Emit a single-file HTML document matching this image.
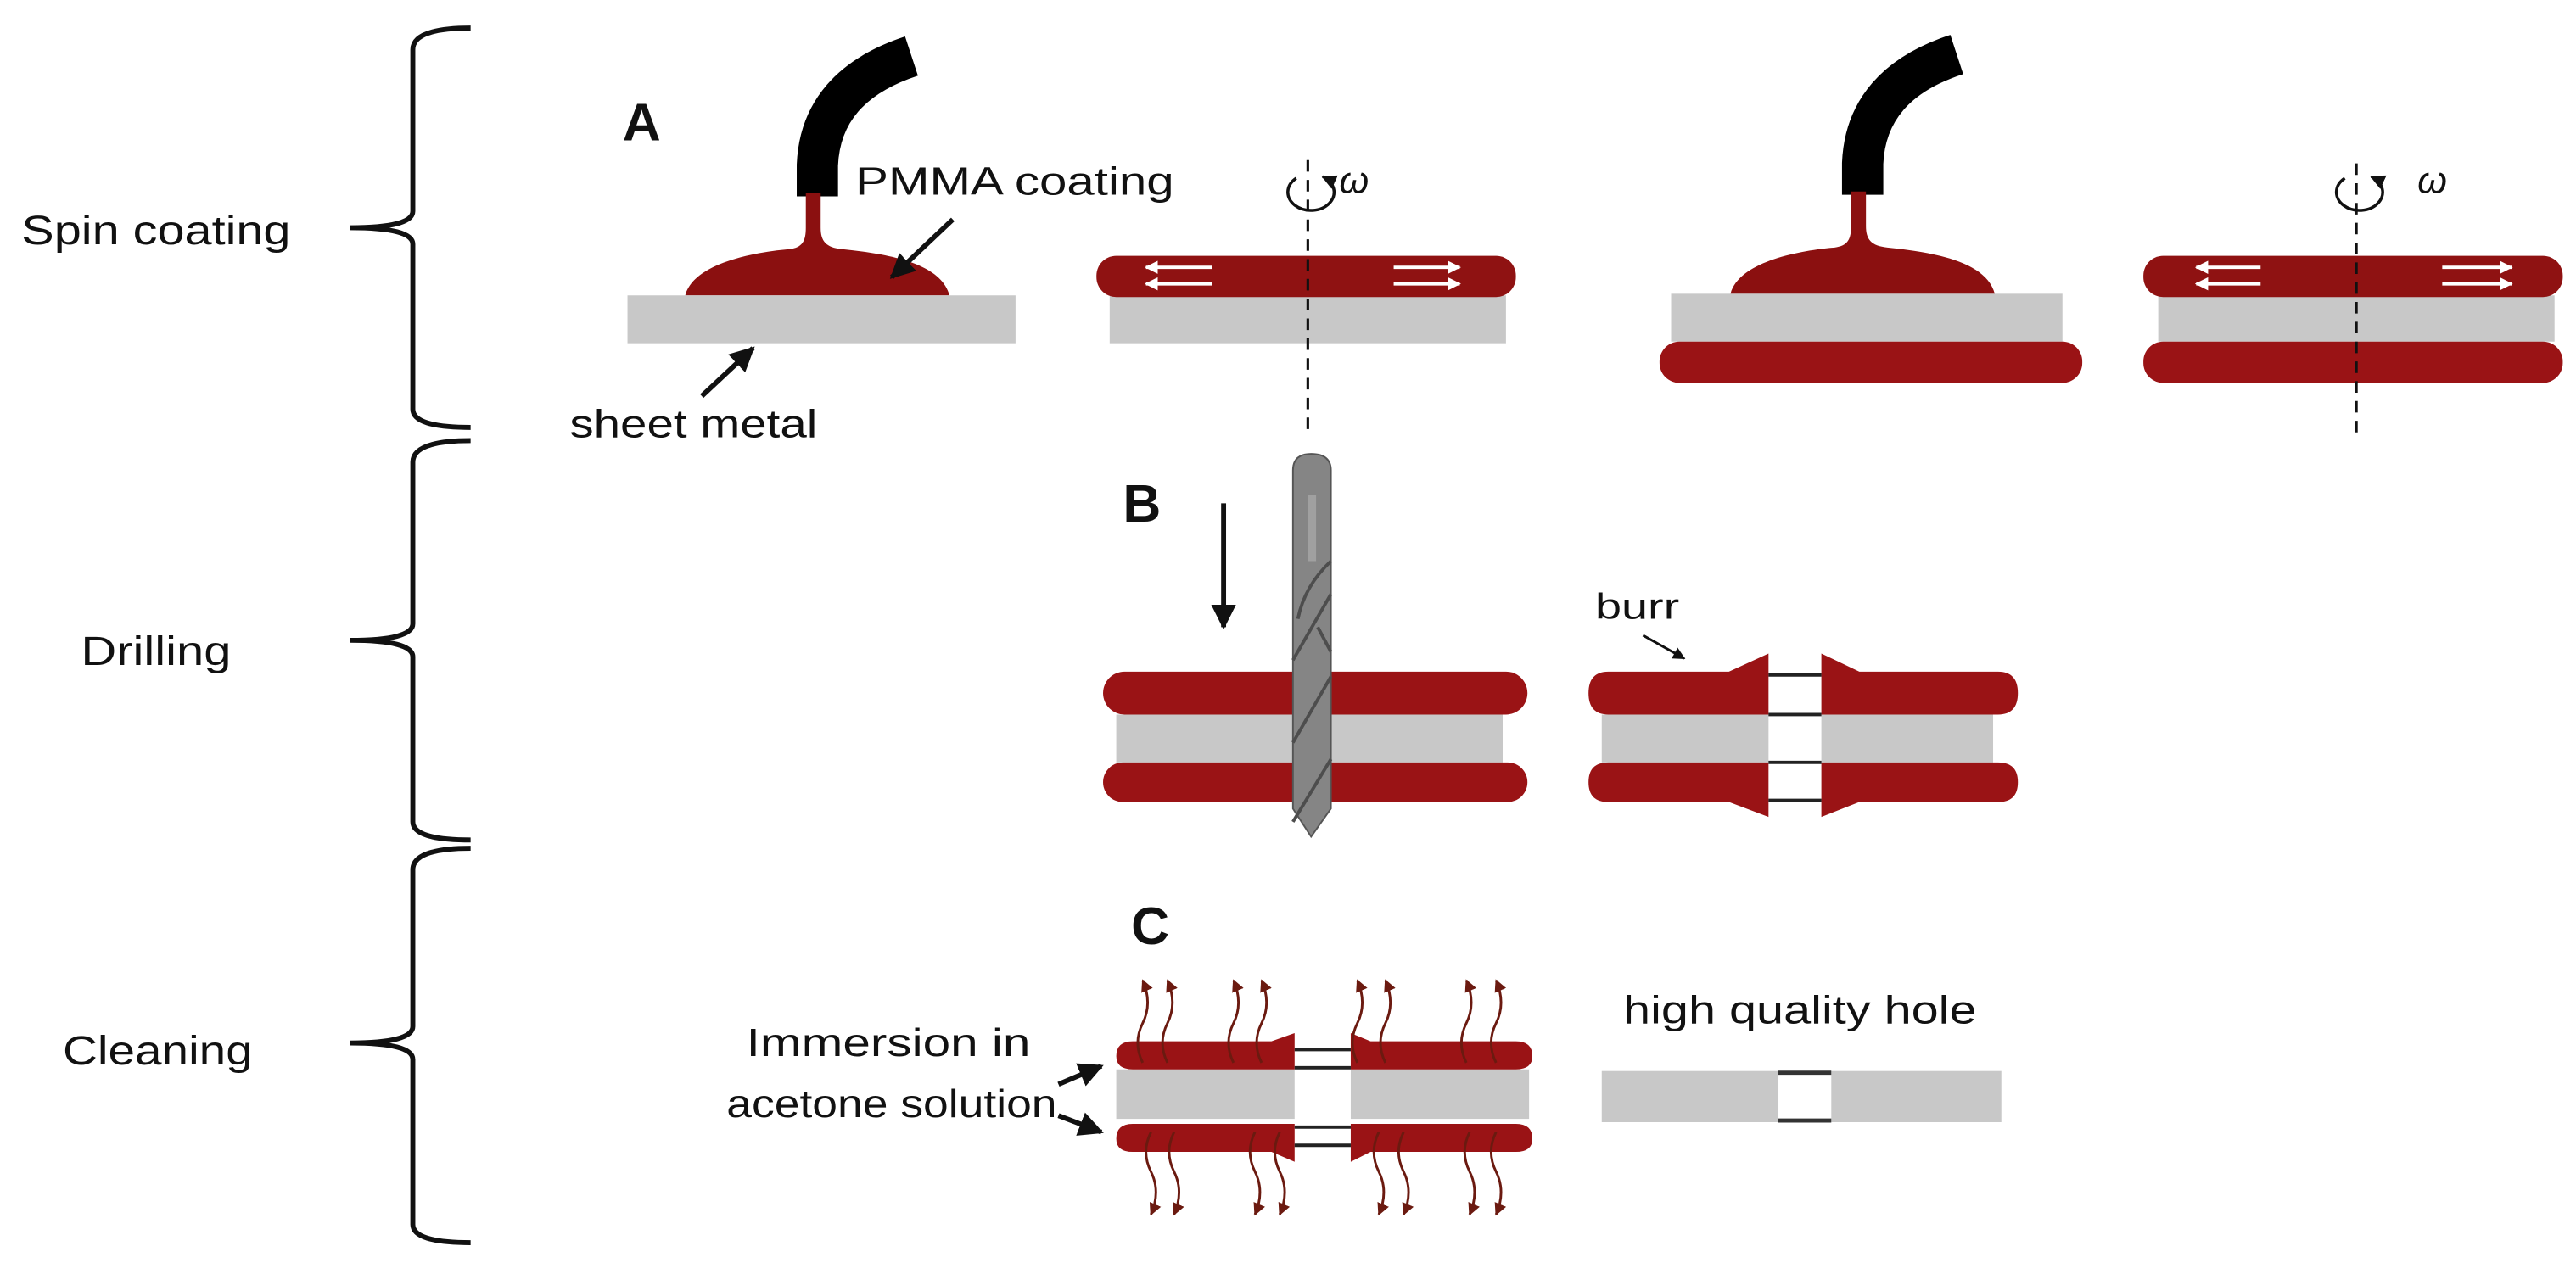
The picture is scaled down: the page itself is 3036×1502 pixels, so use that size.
<!DOCTYPE html>
<html><head><meta charset="utf-8"><style>
html,body{margin:0;padding:0;background:#fff;}
svg{display:block;}
text{font-family:"Liberation Sans",sans-serif;fill:#111;}
</style></head><body>
<svg width="3036" height="1502" viewBox="0 0 1560 772" preserveAspectRatio="none" xmlns="http://www.w3.org/2000/svg">
<defs>
<marker id="ah" viewBox="0 0 10 10" refX="9" refY="5" markerWidth="5" markerHeight="5" orient="auto"><path d="M0,0 L10,5 L0,10 Z" fill="#111"/></marker>
<marker id="aw" viewBox="0 0 10 10" refX="9" refY="5" markerWidth="4" markerHeight="4" orient="auto"><path d="M0,0 L10,5 L0,10 Z" fill="#fff"/></marker>
<marker id="ab" viewBox="0 0 10 10" refX="9" refY="5" markerWidth="5" markerHeight="5" orient="auto"><path d="M0,0 L10,5 L0,10 Z" fill="#6b1a10"/></marker>
<g id="noz">
<path d="M495,119 L495,100 Q497,52 552,34" stroke="#000" stroke-width="25" fill="none"/>
<path d="M415,179 C420,160 455,153 478,151 C486,150 488,146 488,138 L488,117 L497,117 L497,138 C497,146 500,150 510,151 C540,154 570,160 575,179 Z" fill="#8b1010"/>
</g>
</defs>
<rect width="1560" height="772" fill="#fff"/>

<!-- braces -->
<g fill="none" stroke="#111" stroke-width="3">
<path d="M285,17 Q250,17 250,30 L250,128 Q250,138 212,138 Q250,138 250,148 L250,248 Q250,259 285,259"/>
<path d="M285,267 Q250,267 250,280 L250,378 Q250,388 212,388 Q250,388 250,398 L250,498 Q250,509 285,509"/>
<path d="M285,514 Q250,514 250,527 L250,622 Q250,632 212,632 Q250,632 250,642 L250,742 Q250,753 285,753"/>
</g>
<text x="13" y="148" font-size="25" textLength="163" lengthAdjust="spacingAndGlyphs">Spin coating</text>
<text x="49" y="403" font-size="25" textLength="91" lengthAdjust="spacingAndGlyphs">Drilling</text>
<text x="38" y="645" font-size="25" textLength="115" lengthAdjust="spacingAndGlyphs">Cleaning</text>

<!-- Panel A -->
<text x="377" y="85" font-size="32" font-weight="bold">A</text>
<!-- item 1 -->
<use href="#noz"/>
<rect x="380" y="179" width="235" height="29" fill="#c8c8c8"/>
<text x="518" y="118" font-size="24" textLength="193" lengthAdjust="spacingAndGlyphs">PMMA coating</text>
<line x1="577" y1="133" x2="540" y2="168" stroke="#111" stroke-width="3" marker-end="url(#ah)"/>
<text x="345" y="265" font-size="24" textLength="150" lengthAdjust="spacingAndGlyphs">sheet metal</text>
<line x1="425" y1="240" x2="456" y2="211" stroke="#111" stroke-width="3" marker-end="url(#ah)"/>

<!-- item 2 -->
<rect x="672" y="179" width="240" height="29" fill="#c8c8c8"/>
<rect x="664" y="155" width="254" height="25" rx="12" fill="#8f1212"/>
<g stroke="#fff" stroke-width="2">
<line x1="734" y1="162" x2="694" y2="162" marker-end="url(#aw)"/>
<line x1="734" y1="172" x2="694" y2="172" marker-end="url(#aw)"/>
<line x1="844" y1="162" x2="884" y2="162" marker-end="url(#aw)"/>
<line x1="844" y1="172" x2="884" y2="172" marker-end="url(#aw)"/>
</g>
<line x1="792" y1="97" x2="792" y2="262" stroke="#111" stroke-width="1.6" stroke-dasharray="7,5"/>
<path d="M785,108 A14,11 0 1 0 801,107" fill="none" stroke="#111" stroke-width="1.8" marker-end="url(#ah)"/>
<text x="811" y="117" font-size="23" font-style="italic" font-family="Liberation Serif,serif">ω</text>

<!-- item 3 -->
<use href="#noz" transform="translate(633,-1)"/>
<rect x="1012" y="178" width="237" height="29" fill="#c8c8c8"/>
<rect x="1005" y="207" width="256" height="25" rx="12" fill="#9a1315"/>

<!-- item 4 -->
<rect x="1307" y="179" width="240" height="28" fill="#c8c8c8"/>
<rect x="1298" y="155" width="254" height="25" rx="12" fill="#8f1212"/>
<rect x="1298" y="207" width="254" height="25" rx="12" fill="#9a1315"/>
<g stroke="#fff" stroke-width="2">
<line x1="1369" y1="162" x2="1330" y2="162" marker-end="url(#aw)"/>
<line x1="1369" y1="172" x2="1330" y2="172" marker-end="url(#aw)"/>
<line x1="1479" y1="162" x2="1521" y2="162" marker-end="url(#aw)"/>
<line x1="1479" y1="172" x2="1521" y2="172" marker-end="url(#aw)"/>
</g>
<line x1="1427" y1="99" x2="1427" y2="262" stroke="#111" stroke-width="1.6" stroke-dasharray="7,5"/>
<path d="M1420,108 A14,11 0 1 0 1436,107" fill="none" stroke="#111" stroke-width="1.8" marker-end="url(#ah)"/>
<text x="1464" y="117" font-size="23" font-style="italic" font-family="Liberation Serif,serif">ω</text>

<!-- Panel B -->
<text x="680" y="316" font-size="32" font-weight="bold">B</text>
<line x1="741" y1="305" x2="741" y2="380" stroke="#111" stroke-width="3" marker-end="url(#ah)"/>
<rect x="676" y="433" width="234" height="29" fill="#c8c8c8"/>
<rect x="668" y="407" width="257" height="26" rx="13" fill="#9a1315"/>
<rect x="668" y="462" width="257" height="24" rx="12" fill="#9a1315"/>
<!-- drill -->
<path d="M783,285 Q783,275 794,275 Q806,275 806,285 L806,490 L794,507 L783,490 Z" fill="#858585" stroke="#555" stroke-width="1"/>
<g stroke="#4d4d4d" stroke-width="2" fill="none">
<path d="M806,340 Q790,355 786,375"/>
<path d="M806,360 L783,400"/>
<path d="M806,410 L783,450"/>
<path d="M806,460 L783,498"/>
<path d="M798,380 L806,395"/>
</g>
<rect x="792" y="300" width="5" height="40" fill="#a0a0a0"/>
<!-- right sandwich -->
<rect x="970" y="433" width="101" height="29" fill="#c8c8c8"/>
<rect x="1103" y="433" width="104" height="29" fill="#c8c8c8"/>
<path d="M974,407 L1047,407 L1071,396 L1071,433 L974,433 Q962,433 962,420 Q962,407 974,407 Z" fill="#9a1315"/>
<path d="M1103,396 L1126,407 L1210,407 Q1222,407 1222,420 Q1222,433 1210,433 L1103,433 Z" fill="#9a1315"/>
<path d="M974,462 L1071,462 L1071,495 L1047,486 L974,486 Q962,486 962,474 Q962,462 974,462 Z" fill="#9a1315"/>
<path d="M1103,462 L1210,462 Q1222,462 1222,474 Q1222,486 1210,486 L1126,486 L1103,495 Z" fill="#9a1315"/>
<g stroke="#222" stroke-width="2">
<line x1="1071" y1="409" x2="1103" y2="409"/><line x1="1071" y1="433" x2="1103" y2="433"/>
<line x1="1071" y1="462" x2="1103" y2="462"/><line x1="1071" y1="485" x2="1103" y2="485"/>
</g>
<text x="966" y="375" font-size="22" textLength="51" lengthAdjust="spacingAndGlyphs">burr</text>
<line x1="995" y1="385" x2="1020" y2="399" stroke="#111" stroke-width="1.5" marker-end="url(#ah)"/>

<!-- Panel C -->
<text x="685" y="572" font-size="32" font-weight="bold">C</text>
<rect x="676" y="648" width="108" height="30" fill="#c8c8c8"/>
<rect x="818" y="648" width="108" height="30" fill="#c8c8c8"/>
<path d="M686,631 L770,631 L784,626 L784,648 L686,648 Q676,648 676,640 Q676,631 686,631 Z" fill="#9a1315"/>
<path d="M818,626 L830,631 L918,631 Q928,631 928,640 Q928,648 918,648 L818,648 Z" fill="#9a1315"/>
<path d="M686,681 L784,681 L784,704 L770,698 L686,698 Q676,698 676,690 Q676,681 686,681 Z" fill="#9a1315"/>
<path d="M818,681 L918,681 Q928,681 928,690 Q928,698 918,698 L830,698 L818,704 Z" fill="#9a1315"/>
<g stroke="#222" stroke-width="2">
<line x1="784" y1="636" x2="818" y2="636"/><line x1="784" y1="647" x2="818" y2="647"/>
<line x1="784" y1="683" x2="818" y2="683"/><line x1="784" y1="694" x2="818" y2="694"/>
</g>
<g stroke="#6b1a10" stroke-width="1.5" fill="none" marker-end="url(#ab)">
<path d="M692,644 q-6,-12 0,-24 q6,-12 0,-26"/><path d="M707,644 q-6,-12 0,-24 q6,-12 0,-26"/>
<path d="M747,644 q-6,-12 0,-24 q6,-12 0,-26"/><path d="M764,644 q-6,-12 0,-24 q6,-12 0,-26"/>
<path d="M822,644 q-6,-12 0,-24 q6,-12 0,-26"/><path d="M839,644 q-6,-12 0,-24 q6,-12 0,-26"/>
<path d="M888,644 q-6,-12 0,-24 q6,-12 0,-26"/><path d="M906,644 q-6,-12 0,-24 q6,-12 0,-26"/>
<path d="M697,686 q-6,12 0,24 q6,12 0,26"/><path d="M711,686 q-6,12 0,24 q6,12 0,26"/>
<path d="M760,686 q-6,12 0,24 q6,12 0,26"/><path d="M775,686 q-6,12 0,24 q6,12 0,26"/>
<path d="M835,686 q-6,12 0,24 q6,12 0,26"/><path d="M850,686 q-6,12 0,24 q6,12 0,26"/>
<path d="M890,686 q-6,12 0,24 q6,12 0,26"/><path d="M906,686 q-6,12 0,24 q6,12 0,26"/>
</g>
<text x="452" y="640" font-size="24" textLength="172" lengthAdjust="spacingAndGlyphs">Immersion in</text>
<text x="440" y="677" font-size="24" textLength="200" lengthAdjust="spacingAndGlyphs">acetone solution</text>
<line x1="641" y1="657" x2="667" y2="646" stroke="#111" stroke-width="3" marker-end="url(#ah)"/>
<line x1="641" y1="676" x2="667" y2="686" stroke="#111" stroke-width="3" marker-end="url(#ah)"/>

<text x="983" y="620" font-size="24" textLength="214" lengthAdjust="spacingAndGlyphs">high quality hole</text>
<rect x="970" y="649" width="107" height="31" fill="#c8c8c8"/>
<rect x="1109" y="649" width="103" height="31" fill="#c8c8c8"/>
<g stroke="#333" stroke-width="2.5">
<line x1="1077" y1="650" x2="1109" y2="650"/><line x1="1077" y1="679" x2="1109" y2="679"/>
</g>
</svg>
</body></html>
